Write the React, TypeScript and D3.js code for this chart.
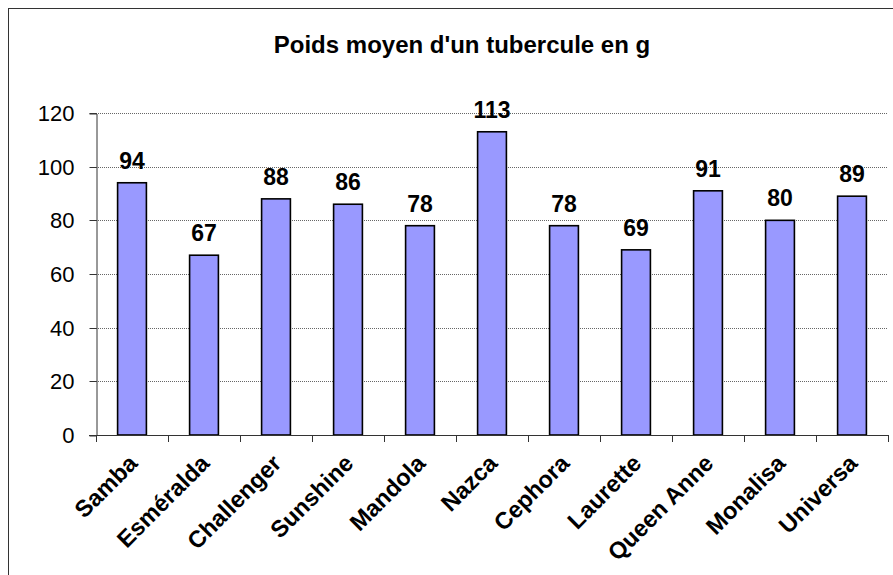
import React, { useEffect, useRef } from 'react'
import * as d3 from 'd3'

// varieties and mean weight of a tuber (g)
const varieties = [
	'Samba',
	'Esméralda',
	'Challenger',
	'Sunshine',
	'Mandola',
	'Nazca',
	'Cephora',
	'Laurette',
	'Queen Anne',
	'Monalisa',
	'Universa',
]
const weights = [94, 67, 88, 86, 78, 113, 78, 69, 91, 80, 89]
const yTicks = [0, 20, 40, 60, 80, 100, 120]
const title = "Poids moyen d'un tubercule en g"

const font = "'Liberation Sans', Arial, sans-serif"

const App = () => {
	const ref = useRef<SVGSVGElement>(null)

	useEffect(() => {
		const width = 893,
			height = 575
		const left = 96,
			right = 888,
			top = 113,
			bottom = 435

		const svg = d3.select(ref.current)
		svg.selectAll('*').remove()

		svg.append('rect').attr('width', width).attr('height', height).attr('fill', '#fff')

		// outer chart frame (only top/left visible in the picture)
		svg
			.append('rect')
			.attr('x', 8.5)
			.attr('y', 8.5)
			.attr('width', 920)
			.attr('height', 620)
			.attr('fill', 'none')
			.attr('stroke', '#333')
			.attr('stroke-width', 1)

		const x = d3
			.scaleBand()
			.domain(varieties)
			.range([left, right])
			.paddingInner(0.6)
			.paddingOuter(0.3)

		const y = d3.scaleLinear().domain([0, 120]).range([bottom, top])

		svg
			.append('text')
			.attr('x', 462)
			.attr('y', 53)
			.attr('text-anchor', 'middle')
			.attr('font-family', font)
			.attr('font-weight', 'bold')
			.attr('font-size', 24)
			.text(title)

		// gridlines
		svg
			.append('g')
			.selectAll('line')
			.data(yTicks.filter(d => d > 0))
			.enter()
			.append('line')
			.attr('x1', left)
			.attr('x2', right)
			.attr('y1', d => Math.round(y(d)) + 0.5)
			.attr('y2', d => Math.round(y(d)) + 0.5)
			.attr('stroke', '#666')
			.attr('stroke-dasharray', '1 1')

		// y axis
		const yAxis = svg
			.append('g')
			.attr('transform', `translate(${left + 0.5},0.5)`)
			.call(d3.axisLeft(y).tickValues(yTicks).tickSize(7).tickPadding(15))
		yAxis.select('.domain').attr('stroke', '#333')
		yAxis.selectAll('.tick line').attr('stroke', '#333')
		yAxis
			.selectAll('.tick text')
			.attr('font-family', font)
			.attr('font-size', 22)
			.attr('fill', '#000')
		yAxis.selectAll('.tick').attr('transform', d => `translate(0,${Math.round(y(d as number))})`)

		// bars
		svg
			.append('g')
			.selectAll('rect')
			.data(weights)
			.enter()
			.append('rect')
			.attr('x', (d, i) => x(varieties[i])!)
			.attr('y', d => y(d))
			.attr('width', x.bandwidth())
			.attr('height', d => bottom - y(d))
			.attr('fill', '#9999FF')
			.attr('stroke', '#000')
			.attr('stroke-width', 1.6)

		// x axis
		const step = x.step()
		svg
			.append('line')
			.attr('x1', left - 7)
			.attr('x2', right)
			.attr('y1', bottom + 0.5)
			.attr('y2', bottom + 0.5)
			.attr('stroke', '#333')
		svg
			.append('g')
			.selectAll('line')
			.data(d3.range(varieties.length + 1))
			.enter()
			.append('line')
			.attr('x1', i => Math.round(left + i * step) + 0.5)
			.attr('x2', i => Math.round(left + i * step) + 0.5)
			.attr('y1', bottom)
			.attr('y2', bottom + 7)
			.attr('stroke', '#333')

		// value labels
		svg
			.append('g')
			.selectAll('text')
			.data(weights)
			.enter()
			.append('text')
			.attr('x', (d, i) => x(varieties[i])! + x.bandwidth() / 2)
			.attr('y', d => y(d) - 14)
			.attr('text-anchor', 'middle')
			.attr('font-family', font)
			.attr('font-weight', 'bold')
			.attr('font-size', 23)
			.text(d => d3.format('d')(d))

		// category labels, rotated
		svg
			.append('g')
			.selectAll('text')
			.data(varieties)
			.enter()
			.append('text')
			.attr('transform', d => {
				const cx = x(d)! + x.bandwidth() / 2 + 1
				return `translate(${cx},459) rotate(-45)`
			})
			.attr('text-anchor', 'end')
			.attr('dy', '0.35em')
			.attr('font-family', font)
			.attr('font-weight', 'bold')
			.attr('font-size', 23.5)
			.text(d => d)
	}, [])

	return (
		<svg
			ref={ref}
			width={893}
			height={575}
			style={{ position: 'absolute', left: 0, top: 0, display: 'block' }}
		></svg>
	)
}

export default App
